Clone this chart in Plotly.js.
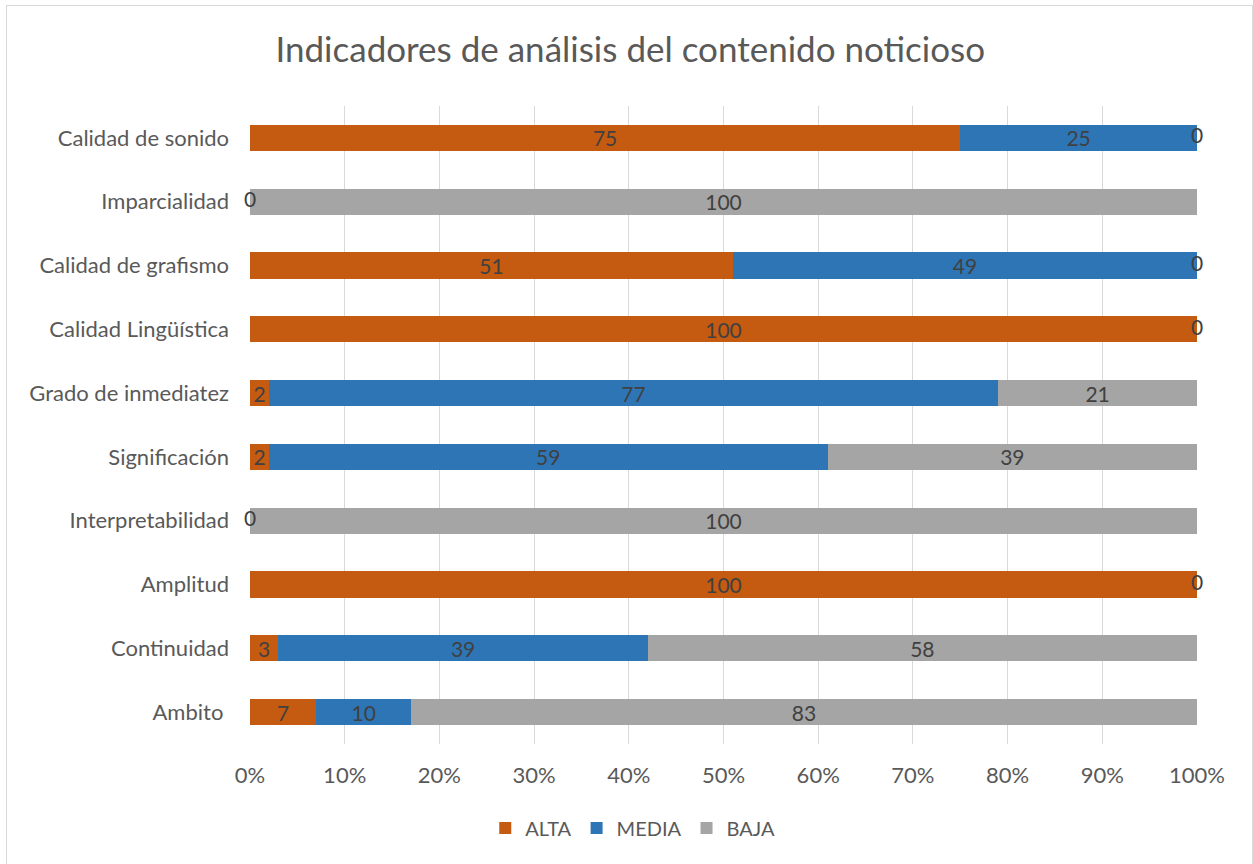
<!DOCTYPE html>
<html>
<head>
<meta charset="utf-8">
<script src="https://cdn.plot.ly/plotly-3.0.1.min.js"></script>
<style>
  html, body { margin: 0; padding: 0; background: #fff; }
  #chart { position: absolute; left: 0; top: 0; width: 1253px; height: 864px; }
  #frame { position: absolute; left: 6px; top: 5px; width: 1245px; height: 900px;
           border: 1px solid #d9d9d9; border-bottom: none; pointer-events: none; }
</style>
</head>
<body>
<div id="chart"></div>
<div id="frame"></div>
<script>
// Categories listed top to bottom, as in the chart
const categories = ['Calidad de sonido', 'Imparcialidad', 'Calidad de grafismo', 'Calidad Lingüística',
  'Grado de inmediatez', 'Significación', 'Interpretabilidad', 'Amplitud', 'Continuidad', 'Ambito '];
const alta  = [75, 0, 51, 100, 2, 2, 0, 100, 3, 7];
const media = [25, null, 49, null, 77, 59, null, null, 39, 10];
const baja  = [0, 100, 0, 0, 21, 39, 100, 0, 58, 83];
const seriesNames = ['ALTA', 'MEDIA', 'BAJA'];
const seriesColors = ['#C55A11', '#2E75B6', '#A5A5A5'];
const xTicks = [0, 10, 20, 30, 40, 50, 60, 70, 80, 90, 100];

const FONT = 'Lato, "Open Sans", sans-serif';
const series = [alta, media, baja];

const traces = series.map((vals, i) => ({
  type: 'bar',
  orientation: 'h',
  name: seriesNames[i],
  y: categories,
  x: vals,
  marker: { color: seriesColors[i], line: { width: 0 } },
  text: vals.map(v => (v ? String(v) : '')),
  textposition: 'inside',
  insidetextanchor: 'middle',
  textangle: 0,
  constraintext: 'none',
  textfont: { family: FONT, size: 21, color: '#404040' },
  hoverinfo: 'x+y+name'
}));

// zero-value labels sit at the cumulative boundary of the stack
const zx = [], zy = [];
categories.forEach((c, k) => {
  let cum = 0;
  const placed = {};
  series.forEach(vals => {
    const v = vals[k];
    if (v === null) return;
    if (v === 0 && !placed[cum]) { zx.push(cum); zy.push(c); placed[cum] = true; }
    cum += v;
  });
});
traces.push({
  type: 'scatter', mode: 'text', x: zx, y: zy, text: zx.map(() => '0'),
  textposition: 'middle center', showlegend: false, hoverinfo: 'skip',
  textfont: { family: FONT, size: 21, color: '#404040' }, cliponaxis: false
});

const layout = {
  width: 1253, height: 864,
  margin: { l: 250, r: 56, t: 106, b: 120 },
  paper_bgcolor: '#ffffff', plot_bgcolor: '#ffffff',
  barmode: 'stack', bargap: 0.59,
  font: { family: FONT, color: '#595959' },
  title: { text: 'Indicadores de análisis del contenido noticioso', x: 0.503, xanchor: 'center',
           y: 1 - 50 / 864, yanchor: 'middle', font: { family: FONT, size: 35, color: '#595959' } },
  xaxis: { range: [0, 100], tickvals: xTicks, ticktext: xTicks.map(t => t + '%'),
           showgrid: true, gridcolor: '#d9d9d9', gridwidth: 1, zeroline: false, showline: false,
           ticks: '', ticklabelstandoff: 16, tickfont: { family: FONT, size: 22, color: '#595959' },
           fixedrange: true },
  yaxis: { type: 'category', autorange: 'reversed', showgrid: false, zeroline: false, showline: false,
           ticks: '', ticklabelstandoff: 20, tickfont: { family: FONT, size: 22, color: '#595959' },
           fixedrange: true },
  showlegend: true,
  legend: { orientation: 'h', traceorder: 'normal', xref: 'container', x: 0.505, xanchor: 'center',
            yref: 'container', y: 1 - 828 / 864, yanchor: 'middle',
            font: { family: FONT, size: 20, color: '#595959' }, itemwidth: 30, tracegroupgap: 0 }
};

Plotly.newPlot('chart', traces, layout, { displayModeBar: false, staticPlot: true });
</script>
</body>
</html>
